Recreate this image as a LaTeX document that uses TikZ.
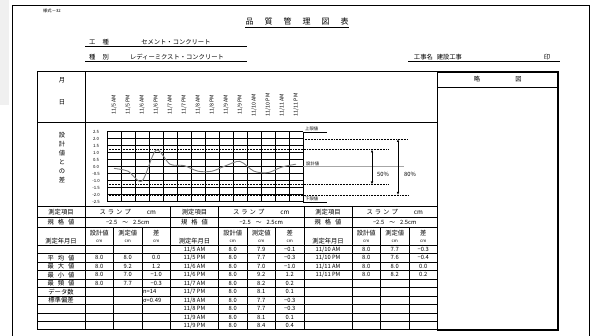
\documentclass[tikz,border=0pt]{standalone}
\usepackage{fontspec}
\newfontfamily\jpfont{Noto Sans CJK JP}
\usetikzlibrary{arrows.meta}
\tikzset{
  txt/.style={font=\jpfont\fontsize{6.3}{7}\selectfont, inner sep=0pt},
  val/.style={font=\jpfont\fontsize{5.8}{6}\selectfont, inner sep=0pt},
  tiny/.style={font=\jpfont\fontsize{4.3}{5}\selectfont, inner sep=0pt},
  datef/.style={font=\jpfont\fontsize{5.3}{6}\selectfont, inner sep=0pt, rotate=90},
  head/.style={font=\jpfont\fontsize{8}{9}\selectfont, inner sep=0pt},
  rule/.style={line width=.7pt},
  frame/.style={line width=1pt},
  box/.style={line width=1.4pt},
  gridln/.style={line width=1pt},
  limit/.style={densely dotted, line width=.55pt},
  curve/.style={gray, line width=.9pt},
  span/.style={{Latex[length=3pt,width=2.4pt]}-{Latex[length=3pt,width=2.4pt]}, line width=.55pt}
}
\begin{document}
\begin{tikzpicture}[x=1pt,y=-1pt]
  \useasboundingbox (0,0) rectangle (597,336);
  \fill[gray!12] (0,0) rectangle (9,105);
  \draw[frame] (12,340) -- (12,6) -- (589,6) -- (589,340);

  \node[tiny] (form) at (52,11) {様式－32};
  \node[head] (title) at (297,21) {品\hspace{11pt}質\hspace{11pt}管\hspace{11pt}理\hspace{11pt}図\hspace{11pt}表};
  \draw[rule] ([yshift=-2pt]title.south west) -- ([yshift=-2pt]title.south east);

  \node[txt] (kind) at (99,42) {工\hspace{7pt}種};
  \node[txt] (kindval) at (176,42) {セメント・コンクリート};
  \node[txt] (sort) at (99,57) {種\hspace{7pt}別};
  \node[txt] (sortval) at (177,57) {レディーミクスト・コンクリート};
  \draw[rule] (85,46) -- (247,46);
  \draw[rule] (85,61) -- (247,61);
  \node[txt] (works) at (438,57) {工事名\hspace{4pt}建設工事};
  \node[txt] (seal) at (547,57) {印};
  \draw[rule] (408,61) -- (560,61);

  \draw[frame] (37,72) rectangle (437.5,330);
  \draw[rule] (37,122) -- (437.5,122);
  \draw[frame] (37,207) -- (437.5,207);
  \draw[rule] (85,72) -- (85,207);
  \draw[box] (437.5,72) rectangle (558,330);
  \draw[rule] (437.5,87) -- (558,87);
  \node[txt] (sketch) at (497.75,79.5) {略\hspace{35pt}図};

  \node[txt] (month) at (62,80) {月};
  \node[txt] (day) at (62,102) {日};
  \foreach \dd/\ap [count=\i from 0] in {5/AM,5/PM,6/AM,6/PM,7/AM,7/PM,8/AM,8/PM,9/AM,9/PM,10/AM,10/PM,11/AM,11/PM}
    \node[datef] (date\i) at (114+14*\i,105) {11/\dd\ \ap};

  \node[txt, align=center] (axis) at (62,158) {設\\[2pt]計\\[2pt]値\\[2pt]と\\[2pt]の\\[2pt]差};
  \foreach \i in {0,...,14}
    \draw[gridln] (107+14*\i,132) -- (107+14*\i,202);
  \foreach \v [count=\j from 0] in {2.5,2.0,1.5,1.0,0.5,0.0,-0.5,-1.0,-1.5,-2.0,-2.5} {
    \draw[gridln] (107,132+7*\j) -- (303,132+7*\j);
    \node[tiny] (tick\j) at (96,132+7*\j) {\v};
  }
  \draw[limit] (107,149.5) -- (388,149.5);
  \draw[limit] (107,184.5) -- (388,184.5);
  \draw[limit] (303,139) -- (408,139);
  \draw[limit] (107,195) -- (408,195);
  \draw[gray!70, line width=1pt] (303,167) -- (404,167);
  \draw[curve] plot[smooth, tension=.5] coordinates {(114,168.4) (128,171.2) (142,181) (156,150.2) (170,164.2) (184,165.6) (198,171.2) (212,171.2) (226,165.6) (240,161.4) (254,171.2) (268,172.6) (282,167) (296,164.2)};

  \draw[rule] (303,132) -- (327,132);
  \draw[rule] (303,202) -- (327,202);
  \node[tiny, anchor=south west] (upper) at (305,131) {上限値};
  \node[tiny, anchor=south west] (lower) at (305,201) {下限値};
  \node[tiny, anchor=south west] (design) at (306,166) {設計値};

  \coordinate (in50t) at (372,149.5);
  \coordinate (in50b) at (372,184.5);
  \coordinate (out80t) at (398,139);
  \coordinate (out80b) at (398,195);
  \draw[span] (in50t) -- (in50b);
  \draw[span] (out80t) -- (out80b);
  \node[val] (half) at (383,174) {50\%};
  \node[val] (most) at (410,174) {80\%};

  \foreach \y in {217,227,245,253.5,262,270.5,279,287.5,296,304.5,313,321.5}
    \draw[rule] (37,\y) -- (437.5,\y);
  \foreach \s in {0,1,2} {
    \pgfmathsetmacro\xo{37+133.5*\s}
    \draw[rule] (\xo,207) -- (\xo,330);
    \draw[rule] (\xo+48,207) -- (\xo+48,330);
    \draw[rule] (\xo+76.5,227) -- (\xo+76.5,330);
    \draw[rule] (\xo+105,227) -- (\xo+105,330);
    \node[txt] (item\s) at (\xo+24,212) {測定項目};
    \node[txt] (slump\s) at (\xo+90.75,212) {ス\hspace{2pt}ラ\hspace{2pt}ン\hspace{2pt}プ\hspace{16pt}cm};
    \node[txt] (specl\s) at (\xo+24,222) {規\hspace{4pt}格\hspace{4pt}値};
    \node[val] (spec\s) at (\xo+90.75,222) {−2.5\hspace{5pt}～\hspace{5pt}2.5cm};
    \node[txt] (when\s) at (\xo+24,241) {測定年月日};
    \node[txt] (set\s) at (\xo+62.25,233) {設計値};
    \node[txt] (mea\s) at (\xo+90.75,233) {測定値};
    \node[txt] (dif\s) at (\xo+119.25,233) {差};
    \node[tiny] (setu\s) at (\xo+62.25,241) {cm};
    \node[tiny] (meau\s) at (\xo+90.75,241) {cm};
    \node[tiny] (difu\s) at (\xo+119.25,241) {cm};
  }

  \foreach \lab/\a/\b/\c [count=\k from 2] in {平\hspace{4pt}均\hspace{4pt}値/8.0/8.0/0.0,最\hspace{4pt}大\hspace{4pt}値/8.0/9.2/1.2,最\hspace{4pt}小\hspace{4pt}値/8.0/7.0/−1.0,最\hspace{4pt}頻\hspace{4pt}値/8.0/7.7/−0.3} {
    \node[txt] (lrow\k) at (61,240.75+8.5*\k) {\lab};
    \node[val] (lset\k) at (99.25,240.75+8.5*\k) {\a};
    \node[val] (lmea\k) at (127.75,240.75+8.5*\k) {\b};
    \node[val] (ldif\k) at (156.25,240.75+8.5*\k) {\c};
  }
  \node[txt] (count) at (61,291.75) {データ数};
  \node[val, anchor=west] (countval) at (143,291.75) {n=14};
  \node[txt] (sigma) at (61,300.25) {標準偏差};
  \node[val, anchor=west] (sigmaval) at (143,300.25) {σ=0.49};

  \foreach \dd/\ap/\b/\c [count=\k] in {5/AM/7.9/−0.1,5/PM/7.7/−0.3,6/AM/7.0/−1.0,6/PM/9.2/1.2,7/AM/8.2/0.2,7/PM/8.1/0.1,8/AM/7.7/−0.3,8/PM/7.7/−0.3,9/AM/8.1/0.1,9/PM/8.4/0.4} {
    \node[val] (mrow\k) at (194.5,240.75+8.5*\k) {11/\dd\ \ap};
    \node[val] (mset\k) at (232.75,240.75+8.5*\k) {8.0};
    \node[val] (mmea\k) at (261.25,240.75+8.5*\k) {\b};
    \node[val] (mdif\k) at (289.75,240.75+8.5*\k) {\c};
  }
  \foreach \dd/\ap/\b/\c [count=\k] in {10/AM/7.7/−0.3,10/PM/7.6/−0.4,11/AM/8.0/0.0,11/PM/8.2/0.2} {
    \node[val] (rrow\k) at (328,240.75+8.5*\k) {11/\dd\ \ap};
    \node[val] (rset\k) at (366.25,240.75+8.5*\k) {8.0};
    \node[val] (rmea\k) at (394.75,240.75+8.5*\k) {\b};
    \node[val] (rdif\k) at (423.25,240.75+8.5*\k) {\c};
  }
\end{tikzpicture}
\end{document}
